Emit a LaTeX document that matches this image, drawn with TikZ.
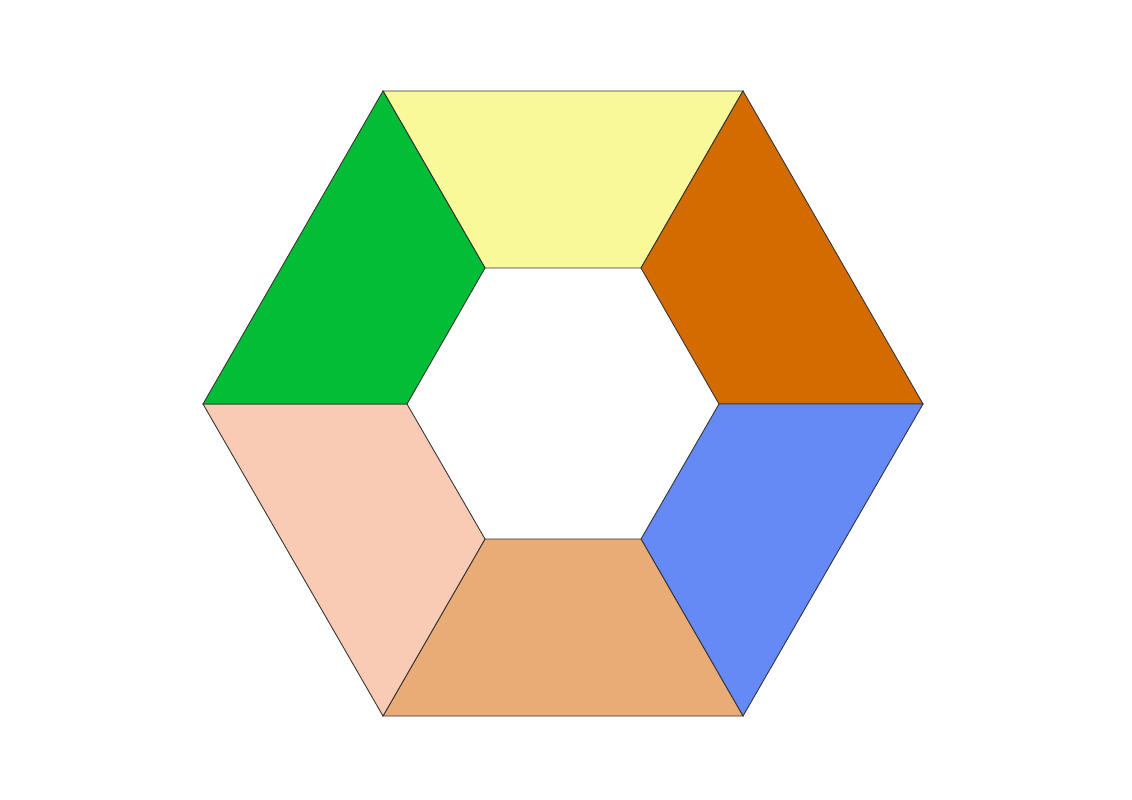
\documentclass[tikz,border=0pt]{standalone}
\definecolor{cgreen}{HTML}{03BD37}
\definecolor{cyellow}{HTML}{F9F99A}
\definecolor{corange}{HTML}{D46B00}
\definecolor{cblue}{HTML}{6589F5}
\definecolor{cpeach}{HTML}{F9CBB5}
\definecolor{ctan}{HTML}{EAAC76}
\definecolor{cedge}{HTML}{333333}
\begin{document}
\begin{tikzpicture}[x=0.02cm,y=-0.02cm,
  piece/.style={draw=cedge,line width=0.5pt,line join=miter}]
\useasboundingbox[fill=white] (0,0) rectangle (1132,800);
% outer vertices
\coordinate (OTL) at (383,91);
\coordinate (OTR) at (743,91);
\coordinate (OR) at (923,404);
\coordinate (OBR) at (743,716);
\coordinate (OBL) at (383,716);
\coordinate (OL) at (203,404);
% inner vertices
\coordinate (ITL) at (485,268);
\coordinate (ITR) at (641,268);
\coordinate (IR) at (719,404);
\coordinate (IBR) at (641,539);
\coordinate (IBL) at (485,539);
\coordinate (IL) at (407,404);
\filldraw[piece,fill=cyellow] (OTL) -- (OTR) -- (ITR) -- (ITL) -- cycle;
\filldraw[piece,fill=corange] (OTR) -- (OR) -- (IR) -- (ITR) -- cycle;
\filldraw[piece,fill=cblue] (OR) -- (OBR) -- (IBR) -- (IR) -- cycle;
\filldraw[piece,fill=ctan] (OBR) -- (OBL) -- (IBL) -- (IBR) -- cycle;
\filldraw[piece,fill=cpeach] (OBL) -- (OL) -- (IL) -- (IBL) -- cycle;
\filldraw[piece,fill=cgreen] (OL) -- (OTL) -- (ITL) -- (IL) -- cycle;
\end{tikzpicture}
\end{document}
